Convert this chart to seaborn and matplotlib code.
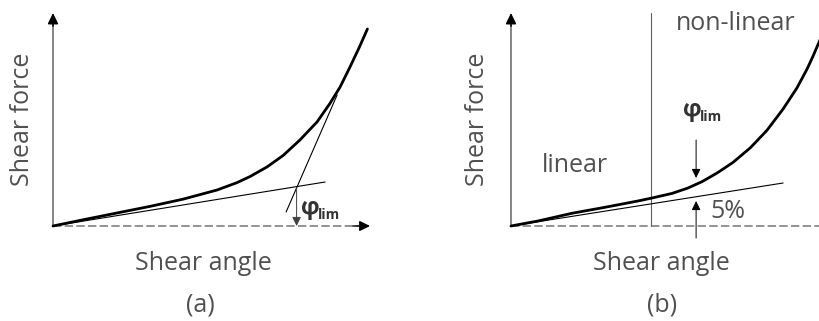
import matplotlib
matplotlib.use("Agg")
import matplotlib.pyplot as plt
import seaborn as sns
import pandas as pd

sns.set_style("white")
plt.rcParams["font.family"] = ["Open Sans", "DejaVu Sans"]

# ---- panel (a): tangent-intersection method ----
angle_a = [0.0, 0.1, 0.213, 0.323, 0.433, 0.547, 0.613, 0.657, 0.713, 0.767, 0.823,
           0.88, 0.923, 0.957, 0.99, 1.023, 1.048]
force_a = [0.0, 0.031, 0.065, 0.098, 0.134, 0.18, 0.2167, 0.2475, 0.295, 0.3525, 0.43,
           0.52, 0.6125, 0.695, 0.795, 0.9, 0.985]
tan1_a_x = [0.0, 0.907]
tan1_a_y = [0.0, 0.22]
tan2_a_x = [0.777, 0.947]
tan2_a_y = [0.07, 0.655]
phi_a_x = 0.812
phi_a_y = 0.19

# ---- panel (b): 5 % deviation method ----
angle_b = [0.0, 0.09, 0.203, 0.313, 0.423, 0.47, 0.537, 0.59, 0.637, 0.687, 0.74, 0.797,
           0.853, 0.907, 0.953, 0.987, 1.007, 1.027, 1.043]
force_b = [0.0, 0.025, 0.0635, 0.0935, 0.125, 0.14, 0.163, 0.19, 0.222, 0.265, 0.318,
           0.39, 0.478, 0.585, 0.69, 0.785, 0.85, 0.92, 0.98]
tan_b_x = [0.0, 0.907]
tan_b_y = [0.0, 0.215]
limit_b_x = 0.467
phi_b_x = 0.617

TEXT = "#505050"
AXIS = "#707070"

fig = plt.figure(figsize=(8.19, 3.21), dpi=100)
ax_a = fig.add_axes([0, 0, 410 / 819, 1])
ax_b = fig.add_axes([410 / 819, 0, 409 / 819, 1])
ax_a.set_xlim(-53 / 300, 357 / 300)
ax_b.set_xlim(-101 / 300, 308 / 300)
for ax in (ax_a, ax_b):
    ax.set_ylim(-95 / 200, 226 / 200)
    ax.set_axis_off()

arrow_big = dict(arrowstyle="-|>,head_length=0.45,head_width=0.22", mutation_scale=14,
                 color="black", lw=1.0, shrinkA=0, shrinkB=0)
arrow_small = dict(arrowstyle="-|>,head_length=0.45,head_width=0.22", mutation_scale=12,
                   color="black", lw=0.7, shrinkA=0, shrinkB=0)


def draw_axes(ax, x_end, label_x):
    ax.plot([0, x_end], [0, 0], color="#808080", lw=1.2, ls=(0, (5, 2)), zorder=1)
    ax.plot([0, 0], [0, 1.0], color=AXIS, lw=1.2, zorder=1)
    ax.annotate("", xy=(0, 1.065), xytext=(0, 1.0), arrowprops=dict(arrow_big, lw=1.2))
    ax.text(label_x, 0.535, "Shear force", rotation=90,
            ha="center", va="center", fontsize=18, color=TEXT)
    ax.text(0.5, -0.185, "Shear angle", ha="center", va="center", fontsize=18, color=TEXT)


def phi_label(ax, x, y):
    ax.text(x, y, "φ", ha="left", va="center", fontsize=17, fontweight="bold", color="#333333")
    ax.text(x + 0.056, y - 0.035, "lim", ha="left", va="center", fontsize=10,
            fontweight="bold", color="#333333")


def curve(ax, xs, ys, lw):
    sns.lineplot(data=pd.DataFrame({"x": xs, "y": ys}), x="x", y="y", ax=ax,
                 color="black", lw=lw, sort=False, solid_joinstyle="round",
                 solid_capstyle="round")


# panel (a)
draw_axes(ax_a, 1.03, -0.1)
ax_a.annotate("", xy=(1.057, 0), xytext=(1.0, 0), arrowprops=arrow_big)
curve(ax_a, tan1_a_x, tan1_a_y, 0.8)
curve(ax_a, tan2_a_x, tan2_a_y, 0.8)
curve(ax_a, angle_a, force_a, 2.0)
ax_a.annotate("", xy=(phi_a_x, 0), xytext=(phi_a_x, phi_a_y),
              arrowprops=dict(arrow_small, color="#404040"))
phi_label(ax_a, 0.828, 0.09)
ax_a.text(0.49, -0.395, "(a)", ha="center", va="center", fontsize=18, color=TEXT)

# panel (b)
draw_axes(ax_b, 1.05, -0.11)
ax_b.plot([limit_b_x, limit_b_x], [0, 1.065], color="#606060", lw=0.8)
curve(ax_b, tan_b_x, tan_b_y, 0.8)
curve(ax_b, angle_b, force_b, 2.0)
ax_b.annotate("", xy=(phi_b_x, 0.24), xytext=(phi_b_x, 0.43), arrowprops=arrow_small)
ax_b.annotate("", xy=(phi_b_x, 0.125), xytext=(phi_b_x, -0.06), arrowprops=arrow_small)
ax_b.text(0.663, 0.075, "5%", ha="left", va="center", fontsize=18, color=TEXT)
phi_label(ax_b, 0.573, 0.58)
ax_b.text(0.213, 0.30, "linear", ha="center", va="center", fontsize=18, color=TEXT)
ax_b.text(0.75, 1.01, "non-linear", ha="center", va="center", fontsize=18, color=TEXT)
ax_b.text(0.503, -0.395, "(b)", ha="center", va="center", fontsize=18, color=TEXT)

for ax in (ax_a, ax_b):
    leg = ax.get_legend()
    if leg is not None:
        leg.remove()

fig.savefig("out.png", dpi=100)
